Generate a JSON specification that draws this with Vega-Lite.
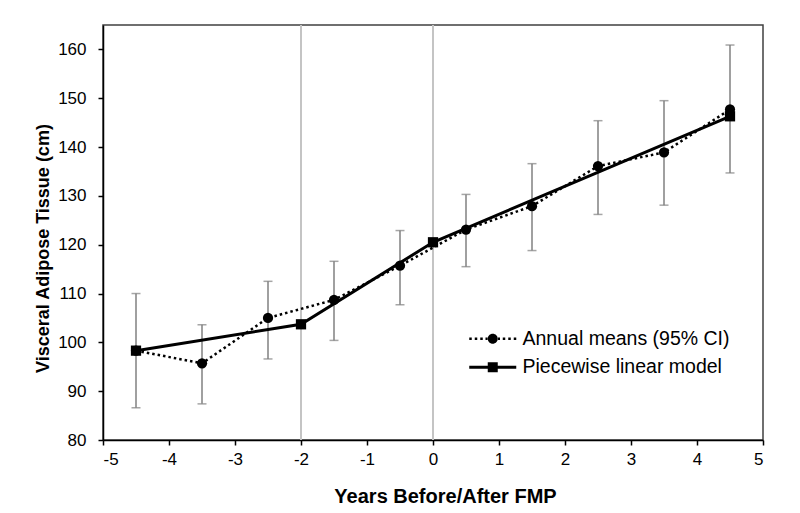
{
  "$schema": "https://vega.github.io/schema/vega-lite/v6.json",
  "width": 660,
  "height": 415,
  "autosize": "none",
  "padding": {"left": 103, "top": 25, "right": 37, "bottom": 73},
  "background": "white",
  "config": {
    "font": "Liberation Sans",
    "view": {"stroke": "#404040", "strokeWidth": 1.5}
  },
  "datasets": {
    "pts": [
      {"series": "Annual means (95% CI)", "x": -4.5, "y": 98.3, "lo": 86.6, "hi": 110.0},
      {"series": "Annual means (95% CI)", "x": -3.5, "y": 95.7, "lo": 87.4, "hi": 103.6},
      {"series": "Annual means (95% CI)", "x": -2.5, "y": 105.0, "lo": 96.6, "hi": 112.5},
      {"series": "Annual means (95% CI)", "x": -1.5, "y": 108.7, "lo": 100.4, "hi": 116.6},
      {"series": "Annual means (95% CI)", "x": -0.5, "y": 115.7, "lo": 107.7, "hi": 122.9},
      {"series": "Annual means (95% CI)", "x": 0.5, "y": 123.1, "lo": 115.5, "hi": 130.3},
      {"series": "Annual means (95% CI)", "x": 1.5, "y": 127.9, "lo": 118.8, "hi": 136.6},
      {"series": "Annual means (95% CI)", "x": 2.5, "y": 136.1, "lo": 126.2, "hi": 145.4},
      {"series": "Annual means (95% CI)", "x": 3.5, "y": 138.9, "lo": 128.1, "hi": 149.5},
      {"series": "Annual means (95% CI)", "x": 4.5, "y": 147.7, "lo": 134.7, "hi": 160.9},
      {"series": "Piecewise linear model", "x": -4.5, "y": 98.3},
      {"series": "Piecewise linear model", "x": -2, "y": 103.7},
      {"series": "Piecewise linear model", "x": 0, "y": 120.5},
      {"series": "Piecewise linear model", "x": 4.5, "y": 146.3}
    ],
    "refs": [{"x": -2}, {"x": 0}]
  },
  "resolve": {"scale": {"shape": "independent"}, "legend": {"shape": "independent"}},
  "layer": [
    {
      "data": {"name": "refs"},
      "mark": {"type": "rule", "color": "#c4c4c4", "strokeWidth": 2},
      "encoding": {
        "x": {"field": "x", "type": "quantitative", "scale": {"domain": [-5, 5], "nice": false, "zero": false}}
      }
    },
    {
      "data": {"name": "pts"},
      "transform": [{"filter": "datum.series == 'Annual means (95% CI)'"}],
      "mark": {"type": "rule", "color": "#808080", "strokeWidth": 1.5},
      "encoding": {
        "x": {"field": "x", "type": "quantitative"},
        "y": {"field": "lo", "type": "quantitative"},
        "y2": {"field": "hi"}
      }
    },
    {
      "data": {"name": "pts"},
      "transform": [{"filter": "datum.series == 'Annual means (95% CI)'"}],
      "mark": {"type": "tick", "orient": "horizontal", "size": 9, "thickness": 1.5, "color": "#808080"},
      "encoding": {
        "x": {"field": "x", "type": "quantitative"},
        "y": {"field": "hi", "type": "quantitative"}
      }
    },
    {
      "data": {"name": "pts"},
      "transform": [{"filter": "datum.series == 'Annual means (95% CI)'"}],
      "mark": {"type": "tick", "orient": "horizontal", "size": 9, "thickness": 1.5, "color": "#808080"},
      "encoding": {
        "x": {"field": "x", "type": "quantitative"},
        "y": {"field": "lo", "type": "quantitative"}
      }
    },
    {
      "data": {"name": "pts"},
      "transform": [{"filter": "datum.series == 'Annual means (95% CI)'"}],
      "mark": {"type": "line", "color": "black", "strokeWidth": 2.5, "strokeDash": [2.5, 3]},
      "encoding": {
        "x": {"field": "x", "type": "quantitative"},
        "y": {"field": "y", "type": "quantitative"}
      }
    },
    {
      "data": {"name": "pts"},
      "transform": [{"filter": "datum.series == 'Piecewise linear model'"}],
      "mark": {"type": "line", "color": "black", "strokeWidth": 3},
      "encoding": {
        "x": {"field": "x", "type": "quantitative"},
        "y": {"field": "y", "type": "quantitative"}
      }
    },
    {
      "data": {"name": "pts"},
      "mark": {"type": "point", "filled": true, "color": "black", "opacity": 1, "size": 105},
      "encoding": {
        "x": {
          "field": "x", "type": "quantitative",
          "axis": {
            "values": [-5, -4, -3, -2, -1, 0, 1, 2, 3, 4, 5],
            "labelExpr": "'' + datum.value",
            "grid": false,
            "labelFontSize": 17,
            "labelColor": "#000000",
            "labelPadding": 6,
            "tickSize": 5,
            "tickColor": "#000000",
            "tickWidth": 1.5,
            "domainColor": "#000000",
            "domainWidth": 1.5,
            "title": "Years Before/After FMP",
            "titleFontSize": 20,
            "titleFontWeight": "bold",
            "titleColor": "#000000",
            "titleX": 342,
            "titleY": 62,
            "titleAlign": "center",
            "titleBaseline": "alphabetic"
          }
        },
        "y": {
          "field": "y", "type": "quantitative",
          "scale": {"domain": [80, 165], "nice": false, "zero": false},
          "axis": {
            "values": [80, 90, 100, 110, 120, 130, 140, 150, 160],
            "grid": false,
            "labelFontSize": 17,
            "labelColor": "#000000",
            "labelPadding": 12,
            "tickSize": 5,
            "tickColor": "#000000",
            "tickWidth": 1.5,
            "domainColor": "#000000",
            "domainWidth": 1.5,
            "title": "Visceral Adipose Tissue (cm)",
            "titleFontSize": 18,
            "titleFontWeight": "bold",
            "titleColor": "#000000",
            "titleAngle": -90,
            "titleX": -55,
            "titleY": 223,
            "titleAlign": "center",
            "titleBaseline": "alphabetic"
          }
        },
        "shape": {
          "field": "series", "type": "nominal",
          "scale": {"domain": ["Annual means (95% CI)", "Piecewise linear model"], "range": ["circle", "square"]},
          "legend": null
        }
      }
    },
    {
      "data": {"name": "pts"},
      "mark": {"type": "point", "filled": true, "color": "black", "opacity": 0, "size": 100},
      "encoding": {
        "x": {"field": "x", "type": "quantitative"},
        "y": {"field": "y", "type": "quantitative"},
        "shape": {
          "field": "series", "type": "nominal",
          "scale": {
            "domain": ["Annual means (95% CI)", "Piecewise linear model"],
            "range": [
              "M-4.7,-0.25H-4.2V0.25H-4.7Z M-3.6,-0.25H-3.1V0.25H-3.6Z M-2.5,-0.25H-2V0.25H-2.5Z M-1.45,-0.25H-1.05V0.25H-1.45Z M1.05,-0.25H1.45V0.25H1.05Z M2,-0.25H2.5V0.25H2Z M3.1,-0.25H3.6V0.25H3.1Z M4.2,-0.25H4.7V0.25H4.2Z M-1,0A1,1 0 1,1 1,0A1,1 0 1,1 -1,0Z",
              "M-4.7,-0.3H4.7V0.3H-4.7Z M-1,-1H1V1H-1Z"
            ]
          },
          "legend": {
            "title": null,
            "orient": "none",
            "legendX": 380,
            "legendY": 304,
            "padding": 0,
            "rowPadding": 7.5,
            "symbolSize": 100,
            "symbolOpacity": 1,
            "symbolFillColor": "black",
            "symbolStrokeWidth": 0,
            "labelFontSize": 19.5,
            "labelColor": "#000000",
            "labelOffset": 20,
            "labelLimit": 400
          }
        }
      }
    }
  ]
}
